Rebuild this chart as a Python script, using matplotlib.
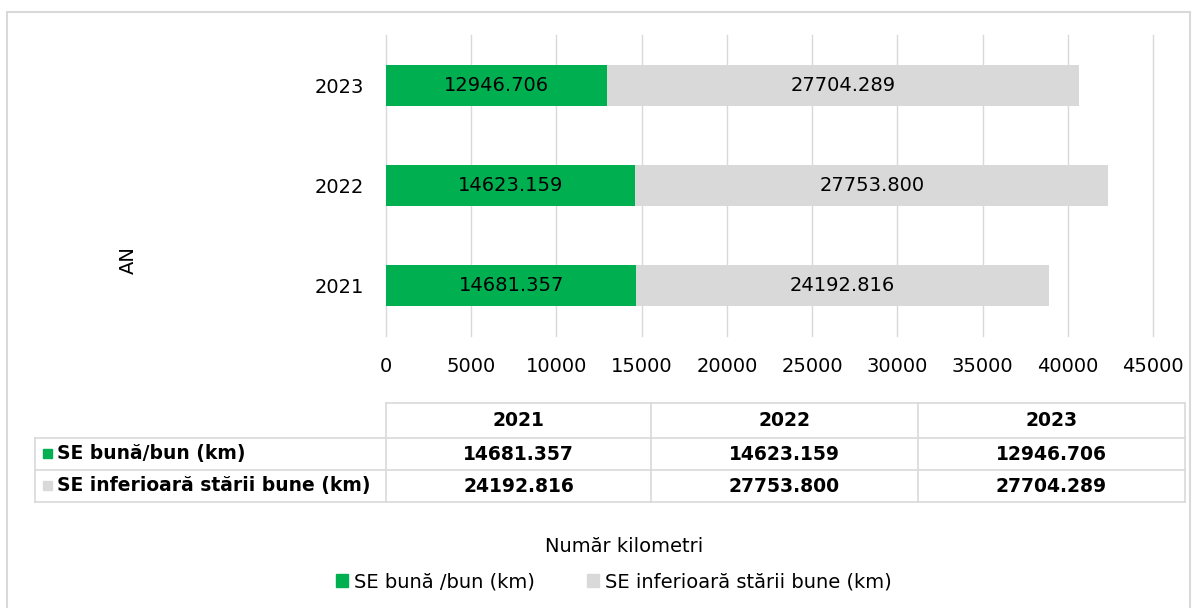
#!/usr/bin/env python3
# Stacked horizontal bars (km per year) with a data table under the axis
import numpy as np
import matplotlib.pyplot as plt
from matplotlib.patches import Patch, Rectangle
from matplotlib.lines import Line2D

# ---- Data ----
years = ["2021", "2022", "2023"]
good_km = [14681.357, 14623.159, 12946.706]
below_km = [24192.816, 27753.800, 27704.289]
series_names = ["SE bună/bun (km)", "SE inferioară stării bune (km)"]
legend_names = ["SE bună /bun (km)", "SE inferioară stării bune (km)"]
x_ticks = [0, 5000, 10000, 15000, 20000, 25000, 30000, 35000, 40000, 45000]

GREEN = "#00B050"
GREY = "#D9D9D9"
GRID = "#D9D9D9"
W, H = 1198, 608
FS = 14

plt.rcParams["font.family"] = ["DejaVu Sans"]

fig = plt.figure(figsize=(W / 100, H / 100), dpi=100)


def fx(px):
    return px / W


def fy(py):
    return 1 - py / H


# outer light border
fig.add_artist(Rectangle((fx(7), fy(640)), fx(1190) - fx(7), fy(12) - fy(640),
                         transform=fig.transFigure, fill=False,
                         edgecolor="#D9D9D9", linewidth=1.5))

# ---- Bar axes ----
ax = fig.add_axes([fx(386), fy(336), fx(1153) - fx(386), fy(35) - fy(336)])
y = np.arange(len(years))
b1 = ax.barh(y, good_km, height=0.41, color=GREEN, zorder=3)
b2 = ax.barh(y, below_km, left=good_km, height=0.41, color=GREY, zorder=3)

for rect, v in zip(b1, good_km):
    ax.text(rect.get_x() + rect.get_width() / 2, rect.get_y() + rect.get_height() / 2,
            f"{v:.3f}", ha="center", va="center", fontsize=FS, zorder=4)
for rect, v in zip(b2, below_km):
    ax.text(rect.get_x() + rect.get_width() / 2, rect.get_y() + rect.get_height() / 2,
            f"{v:.3f}", ha="center", va="center", fontsize=FS, zorder=4)

ax.set_xlim(0, 45000)
ax.set_ylim(-0.5, 2.5)
ax.set_xticks(x_ticks)
ax.set_xticklabels([str(t) for t in x_ticks], fontsize=FS)
ax.set_yticks(y)
ax.set_yticklabels(years, fontsize=FS)
ax.tick_params(axis="both", length=0)
ax.tick_params(axis="x", pad=15)
ax.tick_params(axis="y", pad=16)
ax.grid(True, axis="x", color=GRID, linewidth=1, zorder=0)
for gl in ax.get_xgridlines():
    gl.set_clip_on(False)
for s in ax.spines.values():
    s.set_visible(False)

fig.text(fx(128), fy(260), "AN", rotation=90, ha="center", va="center", fontsize=FS)

# ---- Data table under the axis ----
col_edges = [35, 386, 651, 918, 1185]
row_edges = [403, 438, 470, 502]
lc = "#D9D9D9"


def hline(py, x0, x1):
    fig.add_artist(Line2D([fx(x0), fx(x1)], [fy(py), fy(py)], transform=fig.transFigure,
                          color=lc, linewidth=1.2))


def vline(px, y0, y1):
    fig.add_artist(Line2D([fx(px), fx(px)], [fy(y0), fy(y1)], transform=fig.transFigure,
                          color=lc, linewidth=1.2))


hline(row_edges[0], col_edges[1], col_edges[-1])
for ry in row_edges[1:]:
    hline(ry, col_edges[0], col_edges[-1])
vline(col_edges[0], row_edges[1], row_edges[-1])
for cx in col_edges[1:]:
    vline(cx, row_edges[0], row_edges[-1])

for i, yr in enumerate(years):
    cx = (col_edges[i + 1] + col_edges[i + 2]) / 2
    fig.text(fx(cx), fy((row_edges[0] + row_edges[1]) / 2), yr, ha="center", va="center",
             fontsize=13.5, fontweight="bold")

for r, (name, vals, col) in enumerate(zip(series_names, [good_km, below_km], [GREEN, GREY])):
    cy = (row_edges[r + 1] + row_edges[r + 2]) / 2
    fig.add_artist(Rectangle((fx(43), fy(cy + 4)), fx(9), fy(0) - fy(9),
                             transform=fig.transFigure, color=col))
    fig.text(fx(57), fy(cy), name, ha="left", va="center", fontsize=13.5, fontweight="bold")
    for i, v in enumerate(vals):
        cx = (col_edges[i + 1] + col_edges[i + 2]) / 2
        fig.text(fx(cx), fy(cy), f"{v:.3f}", ha="center", va="center",
                 fontsize=13.5, fontweight="bold")

# axis title and legend
fig.text(fx(624), fy(547), "Număr kilometri", ha="center", va="center", fontsize=FS)
handles = [Patch(color=GREEN), Patch(color=GREY)]
fig.legend(handles, legend_names, loc="center", bbox_to_anchor=(fx(614), fy(582)),
           ncol=2, frameon=False, fontsize=FS, handlelength=0.6, handleheight=0.6,
           handletextpad=0.3, columnspacing=2.7)

fig.savefig("out.png", dpi=100)
